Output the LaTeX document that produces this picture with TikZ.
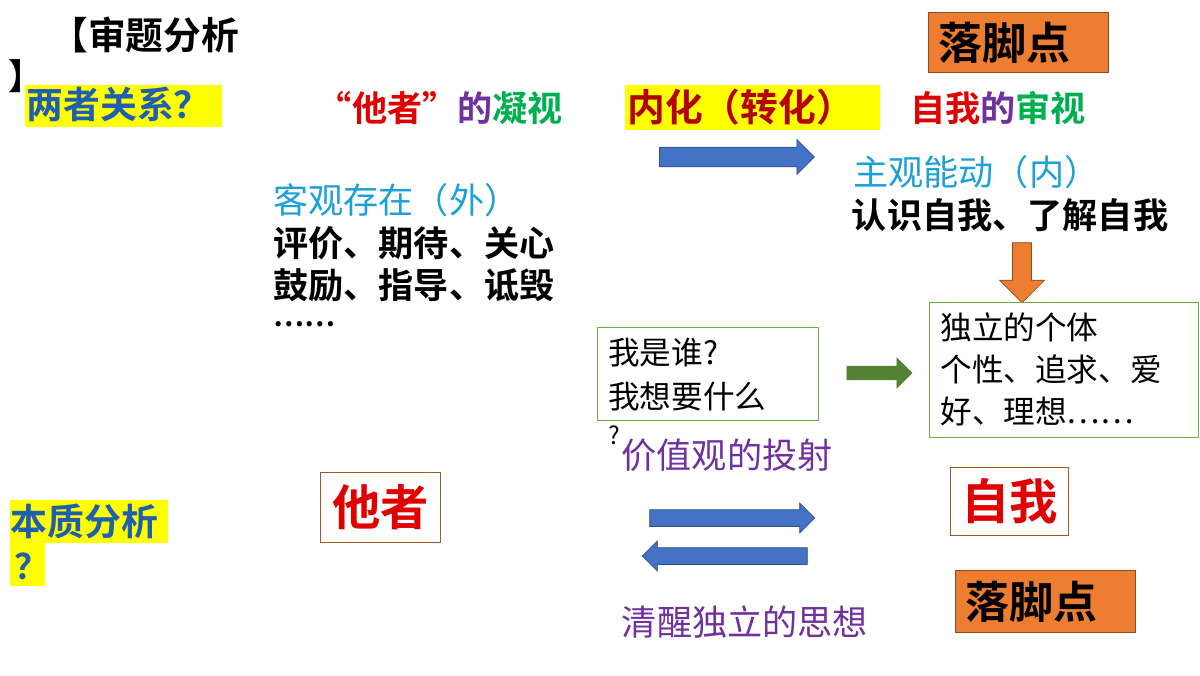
\documentclass[tikz,border=0pt]{standalone}
\usepackage{fontspec}
\setmainfont{Noto Sans CJK SC}
\newfontfamily\cjkb{Noto Sans CJK SC Bold}
\usetikzlibrary{shapes.arrows}
\definecolor{dblue}{HTML}{1F5FB0}
\definecolor{cyanx}{HTML}{1CA0D8}
\definecolor{redx}{HTML}{E00000}
\definecolor{purp}{HTML}{7030A0}
\definecolor{grn}{HTML}{00B050}
\definecolor{orng}{HTML}{ED7D31}
\definecolor{yel}{HTML}{FFFF00}
\definecolor{arrb}{HTML}{4472C4}
\definecolor{arrg}{HTML}{548235}
\definecolor{boxg}{HTML}{70AD47}
\tikzset{
 t/.style={inner sep=0pt,font=\fontsize{20}{24}\selectfont},
 tb/.style={inner sep=0pt,font=\cjkb\fontsize{20}{24}\selectfont},
 box/.style={draw=boxg,line width=0.6pt,anchor=north west,inner sep=0pt},
 barrow/.style={single arrow,draw=arrb!70!black,fill=arrb,minimum width=7.5mm,single arrow head extend=1mm,inner sep=1.2mm},
 orbox/.style={draw=orng!60!black,fill=orng,anchor=north west,inner sep=0pt},
}
\begin{document}
\begin{tikzpicture}[x=0.2mm,y=-0.2mm]
\useasboundingbox (0,0) rectangle (1200,675);
\fill[white] (0,0) rectangle (1200,675);
% top left
\node[tb,anchor=west,font=\cjkb\fontsize{21.5}{24}\selectfont] (sh) at (50,35) {【审题分析};
\node[tb,anchor=west] (shr) at (8,76) {】};
\node[fill=yel,minimum width=39.4mm,minimum height=8.4mm,anchor=north west,inner sep=0pt] (lz) at (25,85) {};
\node[tb,text=dblue,anchor=west,font=\cjkb\fontsize{21}{24}\selectfont] (lzt) at (26,104) {两者关系？};
% gaze
\node[tb,anchor=center] (gaze) at (440,108) {\textcolor{redx}{“他者”}\textcolor{purp}{的}\textcolor{grn}{凝视}};
\node[fill=yel,minimum width=51mm,minimum height=9mm,anchor=north west,inner sep=0pt] (nh) at (625,85) {};
\node[tb,text=redx!80!black,anchor=west,font=\cjkb\fontsize{21.5}{24}\selectfont] (nht) at (627,107) {内化（转化）};
\node[tb] (self) at (998,108) {\textcolor{redx}{自我}\textcolor{purp}{的}\textcolor{grn}{审视}};
\node[orbox,minimum width=36mm,minimum height=12mm] (ld1) at (928,12) {};
\node[tb,font=\cjkb\fontsize{25}{28}\selectfont,anchor=west] at ([xshift=2mm]ld1.west) {落脚点};
% arrow top
\node[barrow,minimum height=31mm,minimum width=7mm] (a1) at (732,157) {};
\node[t,text=cyanx,anchor=west] (zg) at (853,172) {主观能动（内）};
\node[tb] (rs) at (1010,215) {认识自我、了解自我};
\node[single arrow,shape border rotate=270,draw=orng!60!black,fill=orng,minimum height=12mm,minimum width=9mm,single arrow head extend=1.2mm,inner sep=0.8mm] (a2) at (1022,268) {};
% left block
\node[t,text=cyanx,anchor=west] (kg) at (273,200) {客观存在（外）};
\node[tb,anchor=west] (l1) at (273,243) {评价、期待、关心};
\node[tb,anchor=west] (l2) at (273,285) {鼓励、指导、诋毁};
\node[tb,anchor=west,font=\cjkb\fontsize{16}{18}\selectfont] (l3) at (273,324) {……};
% middle boxes
\node[box,minimum width=44.2mm,minimum height=18.6mm] (wb) at (597,327) {};
\node[t,anchor=north west,align=left,font=\fontsize{18}{23}\selectfont] at (608,338) {我是谁?\\[2pt]我想要什么};
\node[t,anchor=west,font=\fontsize{14}{15}\selectfont] (q) at (608,435) {?};
\node[t,text=purp] (jz) at (727,455) {价值观的投射};
\node[single arrow,draw=arrg,fill=arrg,minimum height=13mm,minimum width=6mm,single arrow head extend=0.8mm,inner sep=0.6mm] (a3) at (876,373) {};
\node[box,minimum width=53.8mm,minimum height=27mm] (db) at (929,302) {};
\node[t,anchor=north west,align=left,font=\fontsize{18}{24}\selectfont] at (940,312) {独立的个体\\个性、追求、爱\\好、理想……};
% bottom
\node[draw=orng!70!black,minimum width=24mm,minimum height=14mm,anchor=north west,inner sep=0pt] (tz) at (320,472) {};
\node[tb,text=redx,font=\cjkb\fontsize{27.5}{30}\selectfont] at (tz.center) {他者};
\node[draw=orng!70!black,minimum width=23.6mm,minimum height=13.6mm,anchor=north west,inner sep=0pt] (zw) at (950,467) {};
\node[tb,text=redx,font=\cjkb\fontsize{27.5}{30}\selectfont] at (zw.center) {自我};
\node[fill=yel,minimum width=31.6mm,minimum height=8.6mm,anchor=north west,inner sep=0pt] (bz) at (10,500) {};
\node[fill=yel,minimum width=7mm,minimum height=8.6mm,anchor=north west,inner sep=0pt] (bz2) at (10,543) {};
\node[tb,text=dblue,anchor=west,font=\cjkb\fontsize{21}{24}\selectfont] at (10,521) {本质分析};
\node[tb,text=dblue,anchor=west] at (14,566) {？};
\node[barrow,minimum height=33mm,minimum width=6mm] (a4) at (728,518) {};
\node[barrow,minimum height=33mm,minimum width=6mm,shape border rotate=180] (a5) at (729,556) {};
\node[t,text=purp] (qx) at (745,622) {清醒独立的思想};
\node[orbox,minimum width=36mm,minimum height=12.4mm] (ld2) at (955,570) {};
\node[tb,font=\cjkb\fontsize{25}{28}\selectfont,anchor=west] at ([xshift=2mm]ld2.west) {落脚点};
\end{tikzpicture}
\end{document}
